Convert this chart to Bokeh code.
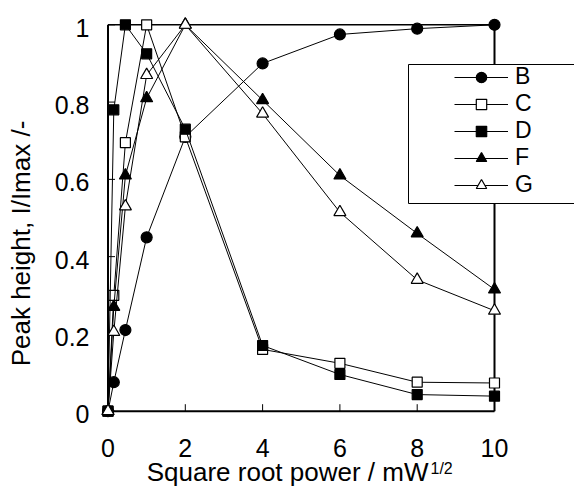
from bokeh.plotting import figure
from bokeh.models import Range1d, Label, BoxAnnotation, Legend, LegendItem
from bokeh.embed import file_html
from bokeh.resources import INLINE
from bokeh.core.properties import value

# ---- data ----
x_vals = [0, 0.15, 0.45, 1, 2, 4, 6, 8, 10]
series_B = [0, 0.075, 0.21, 0.45, 0.71, 0.90, 0.975, 0.99, 1.0]
series_C = [0, 0.30, 0.695, 1.0, 0.71, 0.16, 0.124, 0.075, 0.073]
series_D = [0, 0.78, 1.0, 0.925, 0.73, 0.17, 0.095, 0.043, 0.039]
series_F = [0, 0.27, 0.61, 0.81, 1.0, 0.805, 0.61, 0.46, 0.315]
series_G = [0, 0.205, 0.53, 0.87, 1.0, 0.77, 0.515, 0.34, 0.26]
series_names = ["B", "C", "D", "F", "G"]

x_ticks = [0, 2, 4, 6, 8, 10]
x_tick_labels = ["0", "2", "4", "6", "8", "10"]
y_ticks = [0, 0.2, 0.4, 0.6, 0.8, 1.0]
y_tick_labels = ["0", "0.2", "0.4", "0.6", "0.8", "1"]

x_title = "Square root power / mW"
x_title_sup = "1/2"
y_title = "Peak height, I/Imax /-"

# ---- layout (pixels, canvas coordinates from top-left) ----
W, H = 574, 490
X0_PX, XMAX_PX = 107.5, 494.0
Y0_PX, YMAX_PX = 410.7, 24.3
xmin, xmax = x_ticks[0], x_ticks[-1]
ymin, ymax = y_ticks[0], y_ticks[-1]
xs = (XMAX_PX - X0_PX) / (xmax - xmin)
ys = (Y0_PX - YMAX_PX) / (ymax - ymin)

x_range = Range1d(xmin - X0_PX / xs, xmin + (W - X0_PX) / xs)
y_range = Range1d(ymin - (H - Y0_PX) / ys, ymin + Y0_PX / ys)

FONT = "Liberation Sans"

p = figure(width=W, height=H, x_range=x_range, y_range=y_range,
           output_backend="svg", toolbar_location=None,
           x_axis_type=None, y_axis_type=None,
           min_border_left=0, min_border_right=0, min_border_top=0, min_border_bottom=0)
p.outline_line_color = None
p.grid.visible = False
p.background_fill_color = "white"
p.border_fill_color = "white"

# frame box
p.segment(x0=[xmin], y0=[ymin], x1=[xmax], y1=[ymin], line_color="black", line_width=2)
p.segment(x0=[xmin], y0=[ymin], x1=[xmin], y1=[ymax], line_color="black", line_width=2)
p.segment(x0=[xmax], y0=[ymin], x1=[xmax], y1=[ymax], line_color="black", line_width=2)
p.segment(x0=[xmin], y0=[ymax], x1=[xmax], y1=[ymax], line_color="black", line_width=1.5)

# inward ticks
tick_len = 7
p.segment(x0=x_ticks, y0=[ymin] * len(x_ticks), x1=x_ticks, y1=[ymin + tick_len / ys] * len(x_ticks),
          line_color="black", line_width=1)
p.segment(x0=[xmin] * len(y_ticks), y0=y_ticks, x1=[xmin + tick_len / xs] * len(y_ticks), y1=y_ticks,
          line_color="black", line_width=1)

# tick labels
p.text(x=x_ticks, y=[ymin] * len(x_ticks), text=x_tick_labels, y_offset=36.5,
       text_align="center", text_baseline="alphabetic", text_font=value(FONT),
       text_font_size="25px", text_color="black")
p.text(x=[xmin] * len(y_ticks), y=y_ticks, text=y_tick_labels, x_offset=-18.5, y_offset=3,
       text_align="right", text_baseline="middle", text_font=value(FONT),
       text_font_size="25px", text_color="black")

styles = {
    "B": dict(marker="circle", size=11, fill_color="black"),
    "C": dict(marker="square", size=10, fill_color="white"),
    "D": dict(marker="square", size=10, fill_color="black"),
    "F": dict(marker="triangle", size=12, fill_color="black"),
    "G": dict(marker="triangle", size=12, fill_color="white"),
}
data = {"B": series_B, "C": series_C, "D": series_D, "F": series_F, "G": series_G}

items = []
for name in series_names:
    ln = p.line(x_vals, data[name], line_color="black", line_width=1)
    st = styles[name]
    sc = p.scatter(x_vals, data[name], marker=st["marker"], size=st["size"],
                   fill_color=st["fill_color"], line_color="black", line_width=1.2)
    items.append(LegendItem(label=name, renderers=[ln, sc]))

# legend frame box
box = BoxAnnotation(left=408, right=800, top=H - 64, bottom=H - 203,
                    left_units="screen", right_units="screen", top_units="screen", bottom_units="screen",
                    fill_color="white", fill_alpha=1.0, line_color="black", line_width=1, line_alpha=1.0)
p.add_layout(box)

legend = Legend(items=items, location=(454, H - 198), padding=0, margin=0, spacing=0,
                glyph_width=54, glyph_height=26, label_height=26, label_standoff=7,
                label_text_font=FONT, label_text_font_size="23px", label_text_color="black",
                border_line_color=None, background_fill_alpha=0)
p.add_layout(legend)

# axis titles
p.add_layout(Label(x=428, y=H - 471, x_units="screen", y_units="screen", text=x_title,
                   text_font=FONT, text_font_size="26px", text_color="black",
                   text_align="right", text_baseline="middle"))
p.add_layout(Label(x=430, y=H - 468, x_units="screen", y_units="screen", text=x_title_sup,
                   text_font=FONT, text_font_size="16px", text_color="black",
                   text_align="left", text_baseline="middle"))
p.add_layout(Label(x=20.5, y=H - 243, x_units="screen", y_units="screen", text=y_title, angle=1.5707963,
                   text_font=FONT, text_font_size="26px", text_color="black",
                   text_align="center", text_baseline="middle"))

open("out.html", "w").write(file_html(p, INLINE))
